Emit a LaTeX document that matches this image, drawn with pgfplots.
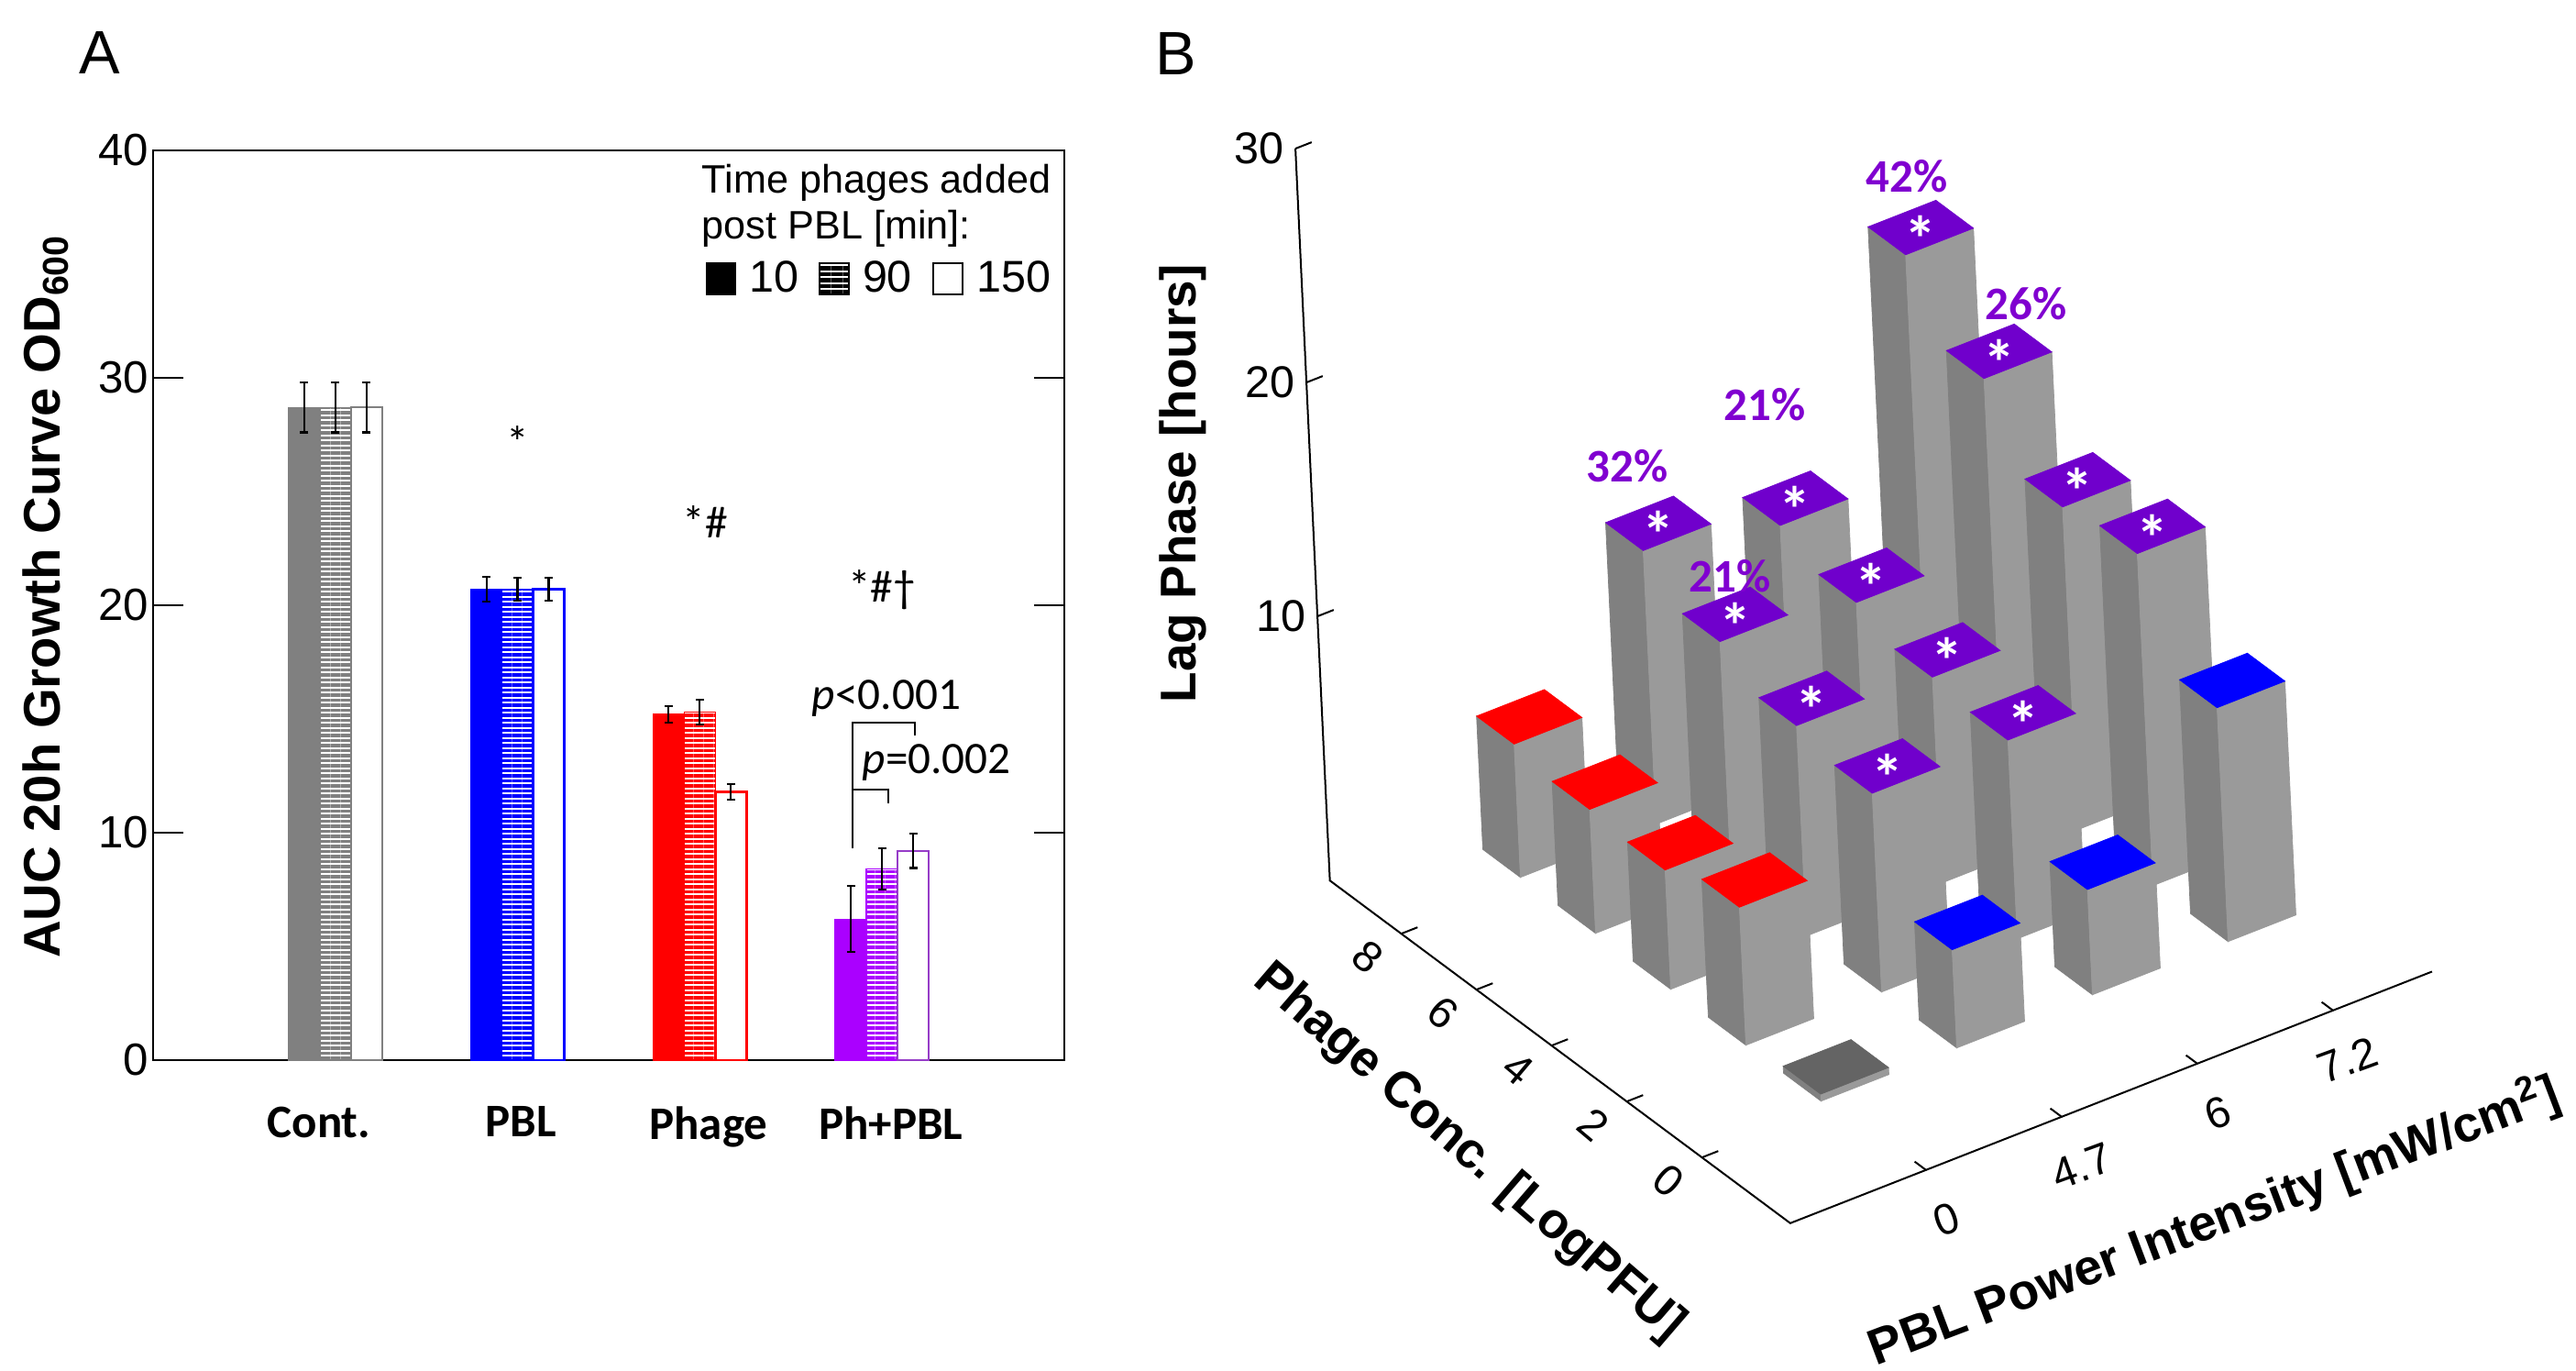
\documentclass[border=0pt]{standalone}
\usepackage{pgfplots}
\pgfplotsset{compat=1.18}
\usetikzlibrary{patterns.meta}
\usepackage{fontspec}
\setmainfont{Liberation Sans}
\newfontfamily\carlito{Carlito}

\definecolor{cgray}{RGB}{128,128,128}
\definecolor{cblue}{RGB}{0,0,255}
\definecolor{cred}{RGB}{255,0,0}
\definecolor{cpurp}{RGB}{170,0,255}
\definecolor{cpurpL}{RGB}{150,60,200}
\definecolor{sideD}{RGB}{128,128,128}
\definecolor{sideL}{RGB}{154,154,154}
\definecolor{ptop}{RGB}{112,0,204}
\definecolor{ptext}{RGB}{128,0,208}
\definecolor{tileg}{RGB}{100,100,100}

\pgfplotsset{ebar/.style={error bars/y dir=both, error bars/y explicit,
  error bars/error bar style={line width=0.22mm,black},
  error bars/error mark options={rotate=90,mark size=0.45mm,line width=0.22mm,black}},
  abar/.style={forget plot,ybar,bar width=0.171,bar shift=0}}

% one 3-D bar: PBL index, phage conc, height, top colour
\newcommand\barthree[4]{%
  \pgfmathsetmacro\xa{#1-0.25}%
  \pgfmathsetmacro\xb{#1+0.25}%
  \pgfmathsetmacro\ya{#2-0.5}%
  \pgfmathsetmacro\yb{#2+0.5}%
  \edef\doplots{%
    \noexpand\addplot3[fill=sideD,draw=sideD,line width=0.2pt] coordinates {(\xa,\ya,0) (\xa,\yb,0) (\xa,\yb,#3) (\xa,\ya,#3)} -- cycle;%
    \noexpand\addplot3[fill=sideL,draw=sideL,line width=0.2pt] coordinates {(\xa,\ya,0) (\xb,\ya,0) (\xb,\ya,#3) (\xa,\ya,#3)} -- cycle;%
    \noexpand\addplot3[fill=#4,draw=#4,line width=0.2pt] coordinates {(\xa,\ya,#3) (\xb,\ya,#3) (\xb,\yb,#3) (\xa,\yb,#3)} -- cycle;%
  }\doplots}

\begin{document}
\begin{tikzpicture}
\useasboundingbox (0,0) rectangle (281mm,149.5mm);

% ---------------- Panel A ----------------
\begin{axis}[
  at={(16.7mm,33.9mm)}, anchor=south west,
  scale only axis, width=99.4mm, height=99.2mm,
  xmin=0, xmax=5, ymin=0, ymax=40,
  xtick={0.91,2.017,3.048,4.049}, xticklabels={Cont.,PBL,Phage,Ph+PBL},
  xtick style={draw=none},
  xticklabel style={font=\carlito\bfseries\fontsize{14.5}{17}\selectfont, anchor=north, inner sep=0pt, yshift=-5mm},
  ytick={0,10,20,30,40},
  tick align=inside, major tick length=3.3mm,
  ytick style={line width=0.22mm, black},
  yticklabel style={font=\fontsize{14}{16}\selectfont, inner sep=0.4mm},
  /pgf/number format/assume math mode=true,
  axis line style={line width=0.22mm},
  ylabel={\bfseries AUC 20h Growth Curve OD\textsubscript{600}},
  ylabel style={font=\fontsize{16}{19}\selectfont, at={(axis description cs:-0.118,0.51)}, anchor=center},
  legend columns=3,
  legend image code/.code={\draw[#1] (0mm,-1.7mm) rectangle (3.2mm,1.7mm);},
  legend style={at={(0.6056,0.859)}, anchor=west, draw=none, fill=none, inner sep=0pt,
     font=\fontsize{13.8}{16}\selectfont,
     nodes={inner sep=0pt},
     /tikz/every odd column/.append style={column sep=1.4mm},
     /tikz/every even column/.append style={column sep=2.2mm}},
  clip=false,
]
% Cont.
\addplot[abar,fill=cgray,draw=cgray,ebar] coordinates {(0.829,28.7) +- (0,1.1)};
\addplot[abar,draw=cgray,pattern={Lines[angle=0,distance=0.55mm,line width=0.36mm]},pattern color=cgray,ebar] coordinates {(1,28.7) +- (0,1.1)};
\addplot[abar,fill=white,draw=cgray,line width=0.25mm,ebar] coordinates {(1.171,28.7) +- (0,1.1)};
% PBL
\addplot[abar,fill=cblue,draw=cblue,ebar] coordinates {(1.829,20.7) +- (0,0.55)};
\addplot[abar,draw=cblue,pattern={Lines[angle=0,distance=0.55mm,line width=0.36mm]},pattern color=cblue,ebar] coordinates {(2,20.7) +- (0,0.5)};
\addplot[abar,fill=white,draw=cblue,line width=0.25mm,ebar] coordinates {(2.171,20.7) +- (0,0.5)};
% Phage
\addplot[abar,fill=cred,draw=cred,ebar] coordinates {(2.829,15.2) +- (0,0.35)};
\addplot[abar,draw=cred,pattern={Lines[angle=0,distance=0.55mm,line width=0.36mm]},pattern color=cred,ebar] coordinates {(3,15.3) +- (0,0.55)};
\addplot[abar,fill=white,draw=cred,line width=0.25mm,ebar] coordinates {(3.171,11.8) +- (0,0.35)};
% Ph+PBL
\addplot[abar,fill=cpurp,draw=cpurp,ebar] coordinates {(3.829,6.2) +- (0,1.45)};
\addplot[abar,draw=cpurp,pattern={Lines[angle=0,distance=0.55mm,line width=0.36mm]},pattern color=cpurp,ebar] coordinates {(4,8.4) +- (0,0.9)};
\addplot[abar,fill=white,draw=cpurpL,line width=0.25mm,ebar] coordinates {(4.171,9.2) +- (0,0.75)};

% legend
\addlegendimage{fill=black,draw=black}
\addlegendentry{10}
\addlegendimage{pattern={Lines[angle=0,distance=0.65mm,line width=0.42mm]},pattern color=black,draw=black,line width=0.2mm}
\addlegendentry{90}
\addlegendimage{fill=white,draw=black,line width=0.25mm}
\addlegendentry{150}

% significance marks
\node[font=\carlito\fontsize{14}{16}\selectfont, yshift=-0.8mm] at (axis cs:2,27.5) {*};
\node[font=\carlito\fontsize{14}{16}\selectfont, yshift=-0.8mm] at (axis cs:3.03,24.0) {*\#};
\node[font=\carlito\fontsize{14}{16}\selectfont, yshift=-0.8mm] at (axis cs:4.0,21.0) {*\#\textdagger};
\node[font=\carlito\fontsize{14}{16}\selectfont, anchor=base] at (axis cs:4.024,15.44) {\textit{p}<0.001};
\node[font=\carlito\fontsize{14}{16}\selectfont, anchor=base] at (axis cs:4.30,12.62) {\textit{p}=0.002};
\draw[line width=0.22mm] (axis cs:3.838,9.31) -- (axis cs:3.838,14.84) -- (axis cs:4.18,14.84) -- (axis cs:4.18,14.27);
\draw[line width=0.22mm] (axis cs:3.838,11.9) -- (axis cs:4.034,11.9) -- (axis cs:4.034,11.29);
\end{axis}

\node[font=\fontsize{19}{22}\selectfont] at (10.9mm,143.7mm) {A};
\node[anchor=west,font=\fontsize{12.3}{14}\selectfont,inner sep=0pt] at (76.5mm,129.6mm) {Time phages added};
\node[anchor=west,font=\fontsize{12.3}{14}\selectfont,inner sep=0pt] at (76.5mm,124.6mm) {post PBL [min]:};

% ---------------- Panel B ----------------
\begin{axis}[
  at={(200.3mm,32.4mm)}, anchor=origin,
  x={(14.8mm,5.8mm)}, y={(-4.1mm,3.05mm)}, z={(-0.12mm,2.55mm)},
  xmin=-1, xmax=3.73, ymin=-2.35, ymax=9.9, zmin=-1.3, zmax=30,
  hide axis, clip=false,
]
% axis lines and ticks
\draw[line width=0.2mm] (axis cs:-1,9.9,30) -- (axis cs:-1,9.9,-1.3) -- (axis cs:-1,-2.35,-1.3) -- (axis cs:3.73,-2.35,-1.3);
\draw[line width=0.2mm] (axis cs:0,-2.35,-1.3) -- (axis cs:0,-2.05,-1.3);
\draw[line width=0.2mm] (axis cs:1,-2.35,-1.3) -- (axis cs:1,-2.05,-1.3);
\draw[line width=0.2mm] (axis cs:2,-2.35,-1.3) -- (axis cs:2,-2.05,-1.3);
\draw[line width=0.2mm] (axis cs:3,-2.35,-1.3) -- (axis cs:3,-2.05,-1.3);
\draw[line width=0.2mm] (axis cs:-1,0,-1.3) -- (axis cs:-0.88,0,-1.3);
\draw[line width=0.2mm] (axis cs:-1,2,-1.3) -- (axis cs:-0.88,2,-1.3);
\draw[line width=0.2mm] (axis cs:-1,4,-1.3) -- (axis cs:-0.88,4,-1.3);
\draw[line width=0.2mm] (axis cs:-1,6,-1.3) -- (axis cs:-0.88,6,-1.3);
\draw[line width=0.2mm] (axis cs:-1,8,-1.3) -- (axis cs:-0.88,8,-1.3);
\draw[line width=0.2mm] (axis cs:-1,9.9,10) -- (axis cs:-0.88,9.9,10);
\draw[line width=0.2mm] (axis cs:-1,9.9,20) -- (axis cs:-0.88,9.9,20);
\draw[line width=0.2mm] (axis cs:-1,9.9,30) -- (axis cs:-0.88,9.9,30);
% tick labels
\node[anchor=east,inner sep=0pt,xshift=-1.2mm,font=\fontsize{13.8}{16}\selectfont] at (axis cs:-1,9.9,10) {10};
\node[anchor=east,inner sep=0pt,xshift=-1.2mm,font=\fontsize{13.8}{16}\selectfont] at (axis cs:-1,9.9,20) {20};
\node[anchor=east,inner sep=0pt,xshift=-1.2mm,font=\fontsize{13.8}{16}\selectfont] at (axis cs:-1,9.9,30) {30};
\node[xshift=2.2mm,yshift=-5.4mm,rotate=20,font=\fontsize{13.5}{16}\selectfont] at (axis cs:0,-2.35,-1.3) {0};
\node[xshift=2.2mm,yshift=-5.4mm,rotate=20,font=\fontsize{13.5}{16}\selectfont] at (axis cs:1,-2.35,-1.3) {4.7};
\node[xshift=2.2mm,yshift=-5.4mm,rotate=20,font=\fontsize{13.5}{16}\selectfont] at (axis cs:2,-2.35,-1.3) {6};
\node[xshift=1.6mm,yshift=-5.4mm,rotate=20,font=\fontsize{13.5}{16}\selectfont] at (axis cs:3,-2.35,-1.3) {7.2};
\node[xshift=-3.6mm,yshift=-2.5mm,rotate=-40,font=\fontsize{13.5}{16}\selectfont] at (axis cs:-1,0,-1.3) {0};
\node[xshift=-3.6mm,yshift=-2.5mm,rotate=-40,font=\fontsize{13.5}{16}\selectfont] at (axis cs:-1,2,-1.3) {2};
\node[xshift=-3.6mm,yshift=-2.5mm,rotate=-40,font=\fontsize{13.5}{16}\selectfont] at (axis cs:-1,4,-1.3) {4};
\node[xshift=-3.6mm,yshift=-2.5mm,rotate=-40,font=\fontsize{13.5}{16}\selectfont] at (axis cs:-1,6,-1.3) {6};
\node[xshift=-3.6mm,yshift=-2.5mm,rotate=-40,font=\fontsize{13.5}{16}\selectfont] at (axis cs:-1,8,-1.3) {8};

% bars, drawn back to front (PBL index, phage conc, lag phase, top colour)
\barthree{3}{8}{19.8}{ptop}
\barthree{2}{8}{10.5}{ptop}
\barthree{1}{8}{11.7}{ptop}
\barthree{0}{8}{5.7}{cred}
\barthree{3}{6}{16.9}{ptop}
\barthree{2}{6}{9.6}{ptop}
\barthree{1}{6}{10.2}{ptop}
\barthree{0}{6}{5.3}{cred}
\barthree{3}{4}{13.8}{ptop}
\barthree{2}{4}{8.8}{ptop}
\barthree{1}{4}{9.0}{ptop}
\barthree{0}{4}{5.1}{cred}
\barthree{3}{2}{14.2}{ptop}
\barthree{2}{2}{8.5}{ptop}
\barthree{1}{2}{8.5}{ptop}
\barthree{0}{2}{5.9}{cred}
\barthree{3}{0}{10.0}{cblue}
\barthree{2}{0}{4.5}{cblue}
\barthree{1}{0}{4.2}{cblue}
\barthree{0}{0}{0.3}{tileg}

% asterisks on the significant bars
\addplot3[only marks, mark=none, nodes near coords={*}, nodes near coords align={center},
  every node near coord/.append style={font=\carlito\bfseries\fontsize{20}{22}\selectfont, text=white, yshift=-1.2mm}]
  coordinates {(1,2,8.5) (1,4,9.0) (1,6,10.2) (1,8,11.7) (2,2,8.5) (2,4,8.8) (2,6,9.6) (2,8,10.5) (3,2,14.2) (3,4,13.8) (3,6,16.9) (3,8,19.8)};
% percentages
\addplot3[only marks, mark=none, point meta=explicit symbolic, nodes near coords, nodes near coords align={center},
  every node near coord/.append style={font=\carlito\bfseries\fontsize{14.5}{17}\selectfont, text=ptext}]
  coordinates {(2.916,8,22.2) [42\%] (3.21,6,18.46) [26\%] (0.794,8,14.62) [32\%] (1.81,8,14.94) [21\%] (0.975,6,11.9) [21\%]};
\end{axis}

\node[font=\fontsize{19}{22}\selectfont] at (128.3mm,143.6mm) {B};
\node[rotate=90,font=\bfseries\fontsize{15.6}{18}\selectfont] at (129mm,96.8mm) {Lag Phase [hours]};
\node[rotate=-40.7,font=\bfseries\fontsize{15.6}{18}\selectfont] at (160.2mm,23.8mm) {Phage Conc. [LogPFU]};
\node[rotate=20.7,font=\bfseries\fontsize{15.6}{18}\selectfont] at (241.5mm,16.3mm) {PBL Power Intensity [mW/cm\textsuperscript{2}]};
\end{tikzpicture}
\end{document}
